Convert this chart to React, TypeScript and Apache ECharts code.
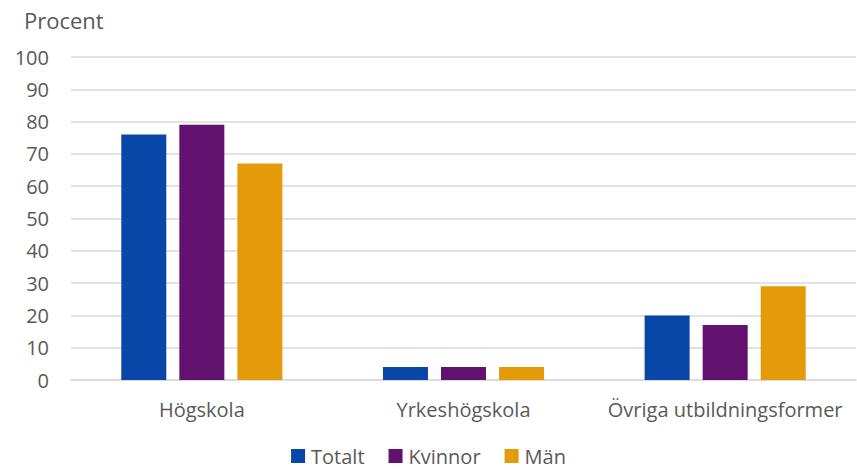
import React, { useEffect, useRef } from "react";
import * as echarts from "echarts";

const categories = ["Högskola", "Yrkeshögskola", "Övriga utbildningsformer"];
const totalt = [76, 4, 20];
const kvinnor = [79, 4, 17];
const man = [67, 4, 29];
const seriesNames = ["Totalt", "Kvinnor", "Män"];
const colors = ["#0846a8", "#60126e", "#e39b0a"];

export default function App() {
  const ref = useRef<HTMLDivElement>(null);
  useEffect(() => {
    document.body.style.margin = "0";
    const chart = echarts.init(ref.current!, null, { renderer: "svg" });
    const font = "'Open Sans', sans-serif";
    const textColor = "#595959";
    const data = [totalt, kvinnor, man];
    chart.setOption({
      animation: false,
      textStyle: { fontFamily: font },
      grid: { left: 71, right: 1, top: 57, bottom: 90 },
      graphic: [
        {
          type: "text",
          left: 24,
          top: 9,
          style: { text: "Procent", fill: textColor, fontSize: 22, fontFamily: font },
        },
      ],
      legend: {
        bottom: 3,
        left: "center",
        padding: 0,
        itemWidth: 14,
        itemHeight: 14,
        itemGap: 24,
        icon: "rect",
        textStyle: { color: textColor, fontSize: 20, lineHeight: 22, fontFamily: font, padding: [0, 0, 0, 1] },
        data: seriesNames,
      },
      xAxis: {
        type: "category",
        data: categories,
        axisLine: { show: true, lineStyle: { color: "#d9d9d9", width: 1.5 } },
        axisTick: { show: false },
        axisLabel: { color: textColor, fontSize: 20, fontFamily: font, margin: 19, interval: 0 },
      },
      yAxis: {
        type: "value",
        min: 0,
        max: 100,
        interval: 10,
        axisLine: { show: false },
        axisTick: { show: false },
        axisLabel: { color: textColor, fontSize: 20, fontFamily: font, margin: 22 },
        splitLine: { lineStyle: { color: "#d9d9d9", width: 1.5 } },
      },
      series: seriesNames.map((name, i) => ({
        name,
        type: "bar",
        data: data[i],
        barWidth: 45,
        barGap: "29%",
        itemStyle: { color: colors[i] },
      })),
    });
    return () => chart.dispose();
  }, []);
  return <div ref={ref} style={{ width: 857, height: 470, position: "absolute", left: 0, top: 0 }} />;
}
